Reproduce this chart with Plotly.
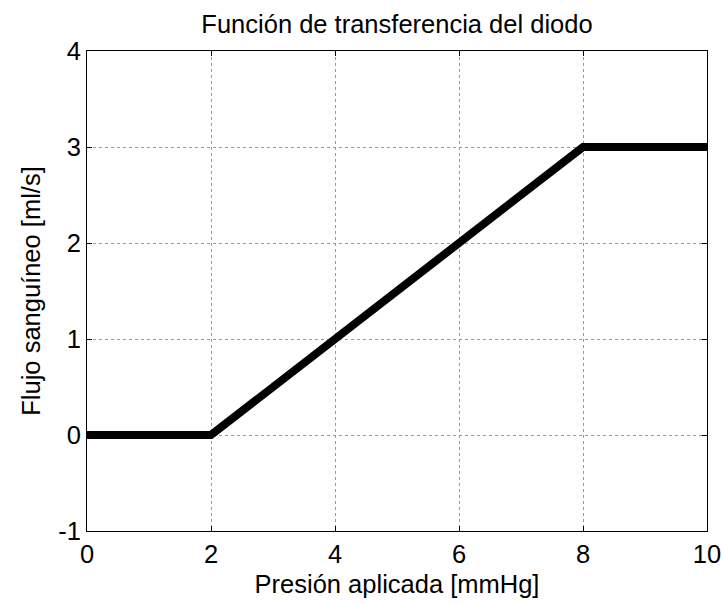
import plotly.graph_objects as go

presion = [0, 2, 8, 10]
flujo = [0, 0, 3, 3]

x_ticks = [0, 2, 4, 6, 8, 10]
x_labels = ["0", "2", "4", "6", "8", "10"]
y_ticks = [-1, 0, 1, 2, 3, 4]
y_labels = ["-1", "0", "1", "2", "3", "4"]

title = "Función de transferencia del diodo"
xlabel = "Presión aplicada [mmHg]"
ylabel = "Flujo sanguíneo [ml/s]"

font = "Liberation Sans, Arial, sans-serif"
fs = 25.5

fig = go.Figure()
fig.add_trace(go.Scatter(x=presion, y=flujo, mode="lines",
                         line=dict(color="black", width=8), showlegend=False))

axis_common = dict(
    showline=True, linecolor="black", linewidth=1, mirror="ticks",
    ticks="inside", ticklen=5, tickcolor="black", tickwidth=1,
    showgrid=True, gridcolor="#999999", griddash="dot", gridwidth=1,
    zeroline=False, automargin=False,
    tickfont=dict(family=font, size=fs, color="black"),
)

fig.update_xaxes(range=[0, 10], tickvals=x_ticks, ticktext=x_labels,
                 title=dict(text=xlabel, font=dict(family=font, size=fs, color="black"), standoff=8),
                 **axis_common)
fig.update_yaxes(range=[-1, 4], tickvals=y_ticks, ticktext=y_labels,
                 title=dict(text=ylabel, font=dict(family=font, size=fs, color="black"), standoff=10),
                 **axis_common)

fig.update_layout(
    width=722, height=604,
    margin=dict(l=87, r=15, t=51, b=73, autoexpand=False),
    paper_bgcolor="white", plot_bgcolor="white",
    title=dict(text=title, x=0.5, xref="paper", xanchor="center",
               y=1 - 24 / 604, yref="container", yanchor="middle",
               font=dict(family=font, size=fs, color="black")),
)

fig.write_html("out.html", config={"displayModeBar": False},
               post_script="document.body.style.margin='0px';document.body.style.overflow='hidden';")
